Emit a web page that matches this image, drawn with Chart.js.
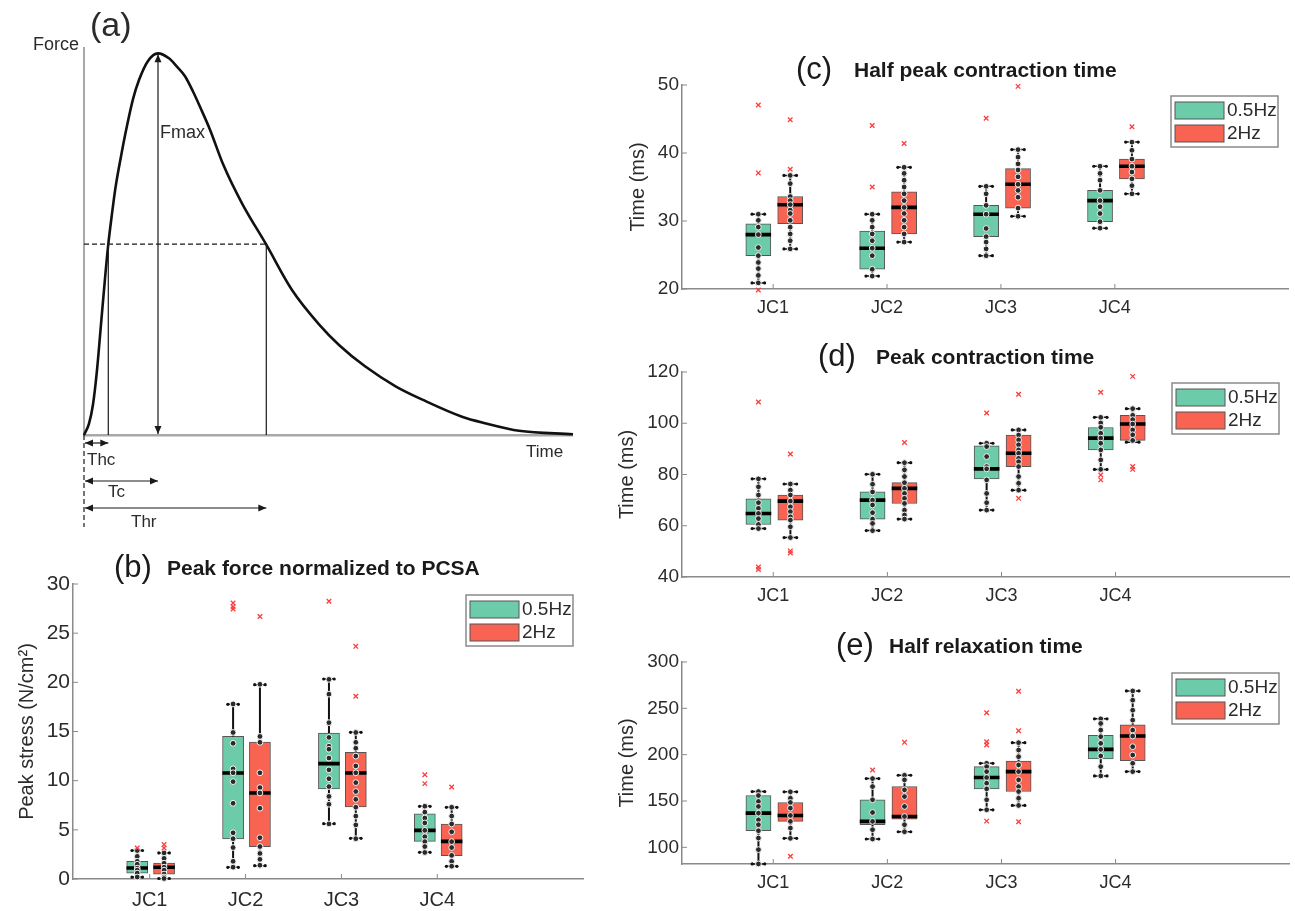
<!DOCTYPE html>
<html>
<head>
<meta charset="utf-8">
<script src="https://cdn.jsdelivr.net/npm/chart.js@4.4.1/dist/chart.umd.min.js"></script>
<style>
  body { margin: 0; background: #fff; width: 1295px; height: 911px; position: relative; overflow: hidden; }
  canvas { position: absolute; }
</style>
</head>
<body>
<canvas id="chartA" width="600" height="540" style="left:0;top:0"></canvas>
<canvas id="chartB" width="600" height="371" style="left:0;top:540px"></canvas>
<canvas id="chartC" width="695" height="280" style="left:600px;top:40px"></canvas>
<canvas id="chartD" width="695" height="300" style="left:600px;top:320px"></canvas>
<canvas id="chartE" width="695" height="291" style="left:600px;top:620px"></canvas>
<script>
const categories = ['JC1', 'JC2', 'JC3', 'JC4'];
const freqLabels = ['0.5Hz', '2Hz'];
const freqColors = ['#6ccba9', '#f96352'];
const groupOffsets = [-0.13, 0.15];
const xRange = [0.2, 5.52];

// (a) twitch curve, force normalised to the peak
const twitchTime = [0, 5, 9, 13, 17, 21, 24.3, 28, 31.6, 37, 43, 49, 55, 64, 74, 85, 93, 101, 109, 116, 126, 139, 158, 182, 208, 235, 255, 281, 312, 339, 378, 401, 435, 489];
const twitchForce = [0, 0.03, 0.08, 0.17, 0.29, 0.41, 0.5, 0.58, 0.65, 0.73, 0.81, 0.88, 0.93, 0.98, 1.0, 0.987, 0.965, 0.94, 0.9, 0.86, 0.8, 0.71, 0.607, 0.5, 0.38, 0.29, 0.236, 0.18, 0.127, 0.092, 0.048, 0.031, 0.011, 0.002];
const thcTime = 24.3, tcTime = 74, thrTime = 182.3, halfForce = 0.5, peakForce = 1;

// box stats per category: [whisker low, q1, median, q3, whisker high]
// (b) peak stress
const stressStats05 = [[0.2, 0.6, 1.12, 1.8, 2.9], [1.19, 4.07, 10.78, 14.5, 17.76], [5.63, 9.15, 11.73, 14.85, 20.34], [2.71, 3.83, 4.95, 6.64, 7.39]];
const stressStats2 = [[0.05, 0.5, 1.19, 1.63, 2.65], [1.36, 3.29, 8.75, 13.93, 19.76], [4.14, 7.32, 10.78, 12.88, 14.92], [1.29, 2.37, 3.83, 5.59, 7.29]];
const stressOut05 = [[3.15], [28.07, 27.7, 27.46], [28.24], [10.6, 9.7]];
const stressOut2 = [[3.5, 3.15], [26.7], [23.66, 18.58], [9.36]];
const stressPts05 = [[2.9, 2.3, 1.8, 1.5, 1.1, 0.9, 0.6, 0.2], [17.8, 14.9, 13.8, 11.2, 10.8, 9.9, 7.7, 4.7, 4.1, 3.2, 1.8, 1.2], [20.3, 18.8, 15.9, 14.4, 13.5, 13.2, 12.3, 11.1, 10.2, 9.4, 8.4, 7.6, 5.6], [7.4, 6.8, 6.2, 5.7, 4.95, 4.3, 3.8, 3.3, 2.7]];
const stressPts2 = [[2.65, 2.1, 1.6, 1.2, 0.9, 0.5, 0.2, 0.05], [19.8, 14.5, 13.9, 10.8, 9.3, 8.75, 7.2, 4.2, 3.3, 2.6, 2.0, 1.4], [14.9, 13.9, 13.3, 12.5, 11.5, 10.8, 9.8, 8.9, 8.1, 7.3, 6.4, 5.5, 4.1], [7.3, 6.4, 5.6, 4.8, 3.8, 3.2, 2.4, 1.8, 1.3]];

// (c) half peak contraction time
const halfContrStats05 = [[20.9, 24.9, 28.0, 29.6, 31.0], [21.9, 22.9, 26.0, 28.5, 31.0], [24.9, 27.7, 31.0, 32.3, 35.1], [28.95, 29.9, 33.0, 34.5, 38.05]];
const halfContrStats2 = [[25.9, 29.6, 32.4, 33.6, 36.7], [26.9, 28.1, 32.0, 34.3, 37.9], [30.7, 31.9, 35.4, 37.7, 40.5], [34.0, 36.2, 38.05, 39.1, 41.6]];
const halfContrOut05 = [[47.05, 37.07, 19.85], [44.05, 35.0], [45.1], []];
const halfContrOut2 = [[44.9, 37.6], [41.4], [49.8], [43.85]];
const halfContrPts05 = [[31, 30.1, 29.1, 28, 26.1, 24.9, 23.9, 23, 22, 20.9], [31, 30.1, 29.1, 28.1, 27.1, 26, 24.9, 22.9, 21.9], [35.1, 34, 32.3, 31, 28.9, 27.7, 26.9, 25.9, 24.9], [38.05, 37, 36, 34.5, 33, 32.1, 31.1, 29.9, 28.95]];
const halfContrPts2 = [[36.7, 35.5, 33.6, 33, 32.4, 31.6, 31.1, 30.1, 29.1, 28.1, 27.1, 25.9], [37.9, 37, 36, 35, 34, 33, 32, 31.1, 30.1, 29.1, 28.1, 26.9], [40.5, 39.4, 38.4, 37.5, 36.5, 35.4, 34.5, 33.5, 31.9, 30.7], [41.6, 40.4, 39.1, 38.05, 37.2, 36.2, 35.2, 34]];

// (d) peak contraction time
const contrStats05 = [[58.9, 60.5, 64.8, 70.5, 78.3], [58.1, 62.6, 70.0, 73.2, 80.1], [66.1, 78.25, 82.2, 91.2, 92.2], [82.0, 89.6, 94.2, 98.35, 102.3]];
const contrStats2 = [[55.4, 62.2, 69.6, 72.0, 76.3], [62.6, 68.7, 74.6, 76.8, 84.6], [73.9, 83.1, 88.3, 95.35, 97.4], [92.6, 93.3, 99.7, 103.1, 105.7]];
const contrOut05 = [[108.3, 43.9, 42.9], [], [104], [112.1, 79.8, 77.9]];
const contrOut2 = [[88.0, 50.2, 49.4], [92.5], [111.3, 70.7], [118.3, 83.1, 82.0]];
const contrPts05 = [[78.3, 75.2, 72, 69, 66.8, 64.8, 62.8, 60.5, 58.9], [80.1, 76.2, 73.2, 70, 68.1, 65.1, 62.6, 60.9, 58.1], [92.2, 90.9, 87, 83.1, 82.2, 77.9, 72.6, 69, 66.1], [102.3, 100.1, 98.4, 96.1, 94.2, 92.2, 89.6, 85.7, 82]];
const contrPts2 = [[76.3, 73.9, 72, 69.6, 67.4, 65.5, 63.5, 62.2, 59.6, 55.4], [84.6, 81.8, 79.2, 76.8, 74.6, 72.6, 70.7, 68.7, 66.1, 64.2, 62.6], [97.4, 95.4, 93.5, 91.6, 89.6, 88.3, 86.3, 85, 83.1, 79.2, 76.6, 73.9], [105.7, 103.1, 101.4, 99.7, 97.4, 95.5, 93.3]];

// (e) half relaxation time
const relaxStats05 = [[82.1, 117.9, 136.9, 155.9, 160.2], [109.0, 124.4, 128.0, 151.3, 174.2], [140.5, 163.1, 175.3, 187.1, 190.7], [177.1, 195.3, 205.7, 220.8, 238.7]];
const relaxStats2 = [[109.7, 128.0, 134.4, 148.4, 159.9], [116.8, 130.5, 133.3, 165.6, 177.8], [145.2, 160.2, 181.7, 193.2, 212.9], [181.7, 193.5, 220.1, 232.3, 268.8]];
const relaxOut05 = [[], [183.5], [245.2, 214, 210.4, 128.3], []];
const relaxOut2 = [[90.3], [213.3], [268.5, 225.8, 127.6], []];
const relaxPts05 = [[160.2, 155.9, 149.5, 144.1, 136.9, 129.7, 124.4, 117.9, 110, 97.5, 82.1], [174.2, 165.6, 151.3, 137.6, 128, 119, 109], [190.7, 187.1, 181.7, 175.3, 169.2, 163.1, 151.3, 140.5], [238.7, 233.7, 226.5, 219.4, 212.2, 205.7, 198.6, 187.1, 177.1]];
const relaxPts2 = [[159.9, 153, 148.4, 142.3, 134.4, 128, 120.8, 109.7], [177.8, 172.8, 162, 154.8, 144.1, 133.3, 124.4, 116.8], [212.9, 205, 197.8, 188.9, 181.7, 172.8, 165.6, 160.2, 153, 145.2], [268.8, 258.8, 248, 237.3, 226.5, 220.1, 208.6, 199.6, 190.7, 181.7]];

Chart.defaults.font.family = '"Liberation Sans", Arial, Helvetica, sans-serif';
const axisGray = '#8a8a8a';
const textColor = '#2b2b2b';

function line(ctx, x1, y1, x2, y2) {
  ctx.beginPath();
  ctx.moveTo(x1, y1);
  ctx.lineTo(x2, y2);
  ctx.stroke();
}

function head(ctx, x, y, dx, dy) {
  // filled arrow head pointing along (dx, dy)
  const len = 8, half = 3.5;
  const px = -dy, py = dx;
  ctx.beginPath();
  ctx.moveTo(x, y);
  ctx.lineTo(x - dx * len + px * half, y - dy * len + py * half);
  ctx.lineTo(x - dx * len - px * half, y - dy * len - py * half);
  ctx.closePath();
  ctx.fill();
}

function doubleArrow(ctx, x1, y1, x2, y2) {
  line(ctx, x1, y1, x2, y2);
  const d = Math.hypot(x2 - x1, y2 - y1);
  const ux = (x2 - x1) / d, uy = (y2 - y1) / d;
  head(ctx, x2, y2, ux, uy);
  head(ctx, x1, y1, -ux, -uy);
}

// labels and arrows of panel (a)
const twitchNotes = {
  id: 'twitchNotes',
  afterDraw(chart) {
    const {ctx, scales: {x, y}} = chart;
    const x0 = x.getPixelForValue(0), y0 = y.getPixelForValue(0);
    const xh = x.getPixelForValue(thcTime), xp = x.getPixelForValue(tcTime), xr = x.getPixelForValue(thrTime);
    const yh = y.getPixelForValue(halfForce), yp = y.getPixelForValue(peakForce);
    ctx.save();
    ctx.strokeStyle = '#1a1a1a';
    ctx.fillStyle = '#1a1a1a';
    ctx.lineWidth = 1.2;
    ctx.setLineDash([5, 3]);
    line(ctx, x0, yh, xr, yh);
    line(ctx, x0, y0, x0, y0 + 92);
    ctx.setLineDash([]);
    line(ctx, xh, yh, xh, y0);
    line(ctx, xr, yh, xr, y0);
    doubleArrow(ctx, xp, yp + 1, xp, y0 - 1);
    doubleArrow(ctx, x0 + 1, y0 + 8, xh, y0 + 8);
    doubleArrow(ctx, x0 + 1, y0 + 46, xp, y0 + 46);
    doubleArrow(ctx, x0 + 1, y0 + 73, xr, y0 + 73);

    ctx.fillStyle = textColor;
    ctx.textBaseline = 'middle';
    ctx.font = '18px "Liberation Sans", Arial, sans-serif';
    ctx.fillText('Force', 33, 45);
    ctx.fillText('Fmax', xp + 2, 133);
    ctx.font = '17px "Liberation Sans", Arial, sans-serif';
    ctx.fillText('Time', 526, y0 + 17);
    ctx.fillText('Thc', x0 + 3, y0 + 25);
    ctx.fillText('Tc', x0 + 24, y0 + 57);
    ctx.fillText('Thr', x0 + 47, y0 + 87);
    ctx.font = '34px "Liberation Sans", Arial, sans-serif';
    ctx.fillText('(a)', 90, 27);
    ctx.restore();
  }
};

new Chart(document.getElementById('chartA'), {
  type: 'line',
  data: {
    datasets: [{
      data: twitchTime.map((t, i) => ({x: t, y: twitchForce[i]})),
      borderColor: '#111',
      borderWidth: 2.6,
      pointRadius: 0,
      cubicInterpolationMode: 'monotone',
      clip: false
    }]
  },
  options: {
    responsive: false,
    animation: false,
    events: [],
    layout: {padding: {left: 0, top: 48, right: 28, bottom: 0}},
    plugins: {legend: {display: false}, tooltip: {enabled: false}},
    scales: {
      x: {
        type: 'linear', min: 0, max: 488,
        grid: {display: false, drawTicks: false}, ticks: {display: false},
        border: {color: '#a8a8a8', width: 2.5},
        afterFit: s => { s.height = 105; }
      },
      y: {
        min: 0, max: 1.014,
        grid: {display: false, drawTicks: false}, ticks: {display: false},
        border: {color: '#a8a8a8', width: 2},
        afterFit: s => { s.width = 84; }
      }
    }
  },
  plugins: [twitchNotes]
});

// title, legend and inward ticks for the box panels
const panelDecor = {
  id: 'panelDecor',
  afterDraw(chart, args, opts) {
    const {ctx, chartArea: area, scales: {x, y}} = chart;
    ctx.save();
    ctx.strokeStyle = axisGray;
    ctx.lineWidth = 1;
    y.ticks.forEach(t => {
      const py = y.getPixelForValue(t.value);
      line(ctx, area.left, py, area.left + 5, py);
    });
    x.ticks.forEach(t => {
      const px = x.getPixelForValue(t.value);
      line(ctx, px, area.bottom, px, area.bottom - 5);
    });

    ctx.fillStyle = '#1a1a1a';
    ctx.textBaseline = 'middle';
    ctx.font = '31px "Liberation Sans", Arial, sans-serif';
    ctx.fillText(opts.tag, opts.tagX, opts.cy);
    ctx.font = 'bold 21px "Liberation Sans", Arial, sans-serif';
    ctx.fillText(opts.text, opts.textX, opts.cy + 1);

    const boxes = chart.data.datasets.filter(d => d.type === 'bar');
    const lw = 107, lh = 51;
    const lx = area.right - 10 - lw, ly = area.top + 11;
    ctx.fillStyle = '#fff';
    ctx.fillRect(lx, ly, lw, lh);
    ctx.strokeStyle = '#8a8a8a';
    ctx.lineWidth = 1.5;
    ctx.strokeRect(lx, ly, lw, lh);
    ctx.font = '19px "Liberation Sans", Arial, sans-serif';
    boxes.forEach((d, i) => {
      const sy = ly + 6 + i * 23;
      ctx.fillStyle = d.backgroundColor;
      ctx.fillRect(lx + 4, sy, 49, 17);
      ctx.strokeStyle = '#555';
      ctx.lineWidth = 1;
      ctx.strokeRect(lx + 4, sy, 49, 17);
      ctx.fillStyle = textColor;
      ctx.fillText(d.label, lx + 56, sy + 9);
    });
    ctx.restore();
  }
};

function boxSets(stats, points, outliers, label, color, offset, boxPx) {
  const xs = stats.map((s, i) => i + 1 + offset);
  const gap = x => ({x, y: null});
  const whiskers = [], caps = [], medians = [];
  stats.forEach((s, i) => {
    const x = xs[i];
    whiskers.push({x, y: s[0]}, {x, y: s[1]}, gap(x), {x, y: s[3]}, {x, y: s[4]}, gap(x));
    caps.push({x: x - 0.055, y: s[0]}, {x: x + 0.055, y: s[0]}, gap(x), {x: x - 0.055, y: s[4]}, {x: x + 0.055, y: s[4]}, gap(x));
    medians.push({x: x - 0.112, y: s[2]}, {x: x + 0.112, y: s[2]}, gap(x));
  });
  return [
    {
      type: 'bar', label,
      data: stats.map((s, i) => ({x: xs[i], y: [s[1], s[3]]})),
      backgroundColor: color, borderColor: '#555', borderWidth: 1,
      borderSkipped: false, grouped: false, barThickness: boxPx, order: 6
    },
    {type: 'line', data: whiskers, borderColor: '#111', borderWidth: 2, pointRadius: 0, spanGaps: false, clip: false, order: 5},
    {type: 'line', data: caps, borderColor: '#111', borderWidth: 1.5, pointRadius: 1.6, pointBackgroundColor: '#111', pointBorderWidth: 0, spanGaps: false, clip: false, order: 4},
    {type: 'line', data: medians, borderColor: '#000', borderWidth: 3.6, pointRadius: 0, spanGaps: false, clip: false, order: 3},
    {
      type: 'scatter',
      data: points.flatMap((arr, i) => arr.map(v => ({x: xs[i], y: v}))),
      pointRadius: 2.9, pointBackgroundColor: '#2a2a2a', pointBorderColor: '#f4f4f4', pointBorderWidth: 1,
      clip: false, order: 2
    },
    {
      type: 'scatter',
      data: outliers.flatMap((arr, i) => arr.map(v => ({x: xs[i], y: v}))),
      pointStyle: 'crossRot', pointRadius: 3.2, pointBorderColor: '#ff3b3b', pointBorderWidth: 1.3,
      clip: false, order: 1
    }
  ];
}

function boxPanel(id, spec) {
  const [left, top, right, bottom] = spec.area;
  const canvas = document.getElementById(id);
  const boxPx = (right - left) / (xRange[1] - xRange[0]) * 0.22;
  const datasets = [
    ...boxSets(spec.stats05, spec.pts05, spec.out05, freqLabels[0], freqColors[0], groupOffsets[0], boxPx),
    ...boxSets(spec.stats2, spec.pts2, spec.out2, freqLabels[1], freqColors[1], groupOffsets[1], boxPx)
  ];
  return new Chart(canvas, {
    type: 'bar',
    data: {datasets},
    options: {
      responsive: false,
      animation: false,
      events: [],
      layout: {padding: {left: 0, top, right: canvas.width - right, bottom: 0}},
      plugins: {
        legend: {display: false},
        tooltip: {enabled: false},
        panelDecor: spec.title
      },
      scales: {
        x: {
          type: 'linear', min: xRange[0], max: xRange[1], offset: false,
          grid: {display: false, drawTicks: false},
          border: {color: axisGray, width: 1.5},
          ticks: {
            autoSkip: false, maxRotation: 0, padding: spec.xPad, color: textColor,
            font: {size: spec.xFont},
            callback: v => categories[v - 1]
          },
          afterBuildTicks: s => { s.ticks = categories.map((c, i) => ({value: i + 1})); },
          afterFit: s => { s.height = canvas.height - bottom; }
        },
        y: {
          min: spec.yMin, max: spec.yMax,
          grid: {display: false, drawTicks: false},
          border: {color: axisGray, width: 1.5},
          ticks: {padding: 3, color: textColor, font: {size: spec.yFont}},
          afterBuildTicks: s => { s.ticks = spec.yTicks.map(v => ({value: v})); },
          title: {display: true, text: spec.yTitle, color: textColor, font: {size: 20}, padding: {top: spec.yTitlePad, bottom: 0}},
          afterFit: s => { s.width = left; }
        }
      }
    },
    plugins: [panelDecor]
  });
}

boxPanel('chartB', {
  area: [73, 44, 583, 339], yMin: 0, yMax: 30, yTicks: [0, 5, 10, 15, 20, 25, 30],
  yTitle: 'Peak stress (N/cm²)', yTitlePad: 15, xFont: 20, yFont: 21, xPad: 9,
  title: {tag: '(b)', text: 'Peak force normalized to PCSA', tagX: 114, textX: 167, cy: 28},
  stats05: stressStats05, stats2: stressStats2, pts05: stressPts05, pts2: stressPts2, out05: stressOut05, out2: stressOut2
});

boxPanel('chartC', {
  area: [82, 45, 688, 249], yMin: 20, yMax: 50, yTicks: [20, 30, 40, 50],
  yTitle: 'Time (ms)', yTitlePad: 26, xFont: 18, yFont: 19, xPad: 8,
  title: {tag: '(c)', text: 'Half peak contraction time', tagX: 196, textX: 254, cy: 30},
  stats05: halfContrStats05, stats2: halfContrStats2, pts05: halfContrPts05, pts2: halfContrPts2, out05: halfContrOut05, out2: halfContrOut2
});

boxPanel('chartD', {
  area: [82, 52, 689, 257], yMin: 40, yMax: 120, yTicks: [40, 60, 80, 100, 120],
  yTitle: 'Time (ms)', yTitlePad: 15, xFont: 18, yFont: 19, xPad: 8,
  title: {tag: '(d)', text: 'Peak contraction time', tagX: 218, textX: 276, cy: 37},
  stats05: contrStats05, stats2: contrStats2, pts05: contrPts05, pts2: contrPts2, out05: contrOut05, out2: contrOut2
});

boxPanel('chartE', {
  area: [82, 42, 689, 244], yMin: 82, yMax: 300, yTicks: [100, 150, 200, 250, 300],
  yTitle: 'Time (ms)', yTitlePad: 15, xFont: 18, yFont: 19, xPad: 8,
  title: {tag: '(e)', text: 'Half relaxation time', tagX: 236, textX: 289, cy: 26},
  stats05: relaxStats05, stats2: relaxStats2, pts05: relaxPts05, pts2: relaxPts2, out05: relaxOut05, out2: relaxOut2
});
</script>
</body>
</html>
